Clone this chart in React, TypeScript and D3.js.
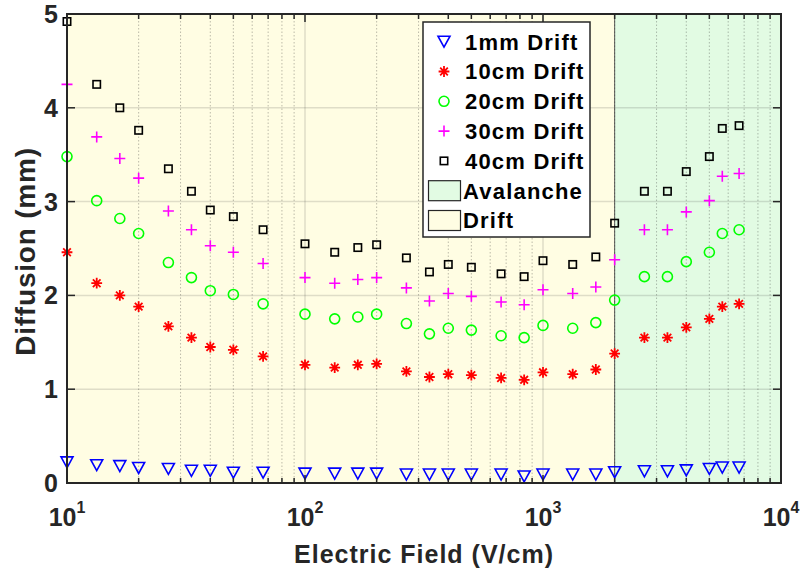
import React from "react";
import * as d3 from "d3";

// Electric field values (V/cm) at which diffusion was evaluated
const fieldVcm = [
  10, 13.33, 16.67, 20, 26.67, 33.33, 40, 50, 66.67, 100, 133.3, 166.7, 200,
  266.7, 333.3, 400, 500, 666.7, 833.3, 1000, 1333, 1667, 2000, 2667, 3333,
  4000, 5000, 5667, 6667,
];

// Diffusion (mm) for each drift length
const drift1mm = [
  0.22, 0.19, 0.18, 0.16, 0.15, 0.13, 0.13, 0.11, 0.11, 0.1, 0.1, 0.1, 0.1,
  0.09, 0.09, 0.09, 0.09, 0.09, 0.07, 0.09, 0.09, 0.09, 0.115, 0.125, 0.125,
  0.135, 0.15, 0.165, 0.165,
];
const drift10cm = [
  2.46, 2.13, 2.0, 1.88, 1.67, 1.55, 1.45, 1.42, 1.35, 1.26, 1.23, 1.26, 1.27,
  1.19, 1.13, 1.16, 1.15, 1.12, 1.1, 1.18, 1.16, 1.21, 1.38, 1.55, 1.55, 1.66,
  1.75, 1.88, 1.91,
];
const drift20cm = [
  3.48, 3.01, 2.82, 2.66, 2.35, 2.19, 2.05, 2.01, 1.91, 1.8, 1.75, 1.77, 1.8,
  1.7, 1.59, 1.65, 1.63, 1.57, 1.55, 1.68, 1.65, 1.71, 1.95, 2.2, 2.2, 2.36,
  2.46, 2.66, 2.7,
];
const drift30cm = [
  4.25, 3.69, 3.46, 3.25, 2.9, 2.7, 2.53, 2.46, 2.34, 2.19, 2.13, 2.17, 2.19,
  2.08, 1.94, 2.02, 1.99, 1.93, 1.9, 2.06, 2.02, 2.09, 2.38, 2.7, 2.7, 2.89,
  3.01, 3.27, 3.3,
];
const drift40cm = [
  4.92, 4.25, 4.0, 3.76, 3.35, 3.11, 2.91, 2.84, 2.7, 2.55, 2.46, 2.51, 2.54,
  2.4, 2.25, 2.33, 2.3, 2.23, 2.2, 2.37, 2.33, 2.41, 2.77, 3.11, 3.11, 3.32,
  3.48, 3.78, 3.81,
];

const seriesNames = ["1mm Drift", "10cm Drift", "20cm Drift", "30cm Drift", "40cm Drift"];
const seriesColors = ["#0000ff", "#ff0000", "#00ff00", "#ff00ff", "#000000"];
const seriesMarkers = ["triangle", "asterisk", "circle", "plus", "square"];

// Operating regions along the field axis
const regionNames = ["Avalanche", "Drift"];
const regionStart = [2000, 10];
const regionEnd = [10000, 2000];
const regionColors = ["#e2fbe3", "#fffde3"];

const yTicks = [0, 1, 2, 3, 4, 5];
const xDecades = [1, 2, 3, 4];

const W = 804;
const H = 571;
const left = 67;
const right = 781;
const top = 14;
const bottom = 483;

const FONT = "'Liberation Sans', Arial, Helvetica, sans-serif";
const AXIS = "#262626";

function Marker({ kind, x, y, color }: { kind: string; x: number; y: number; color: string }) {
  const sw = 1.6;
  if (kind === "triangle") {
    const p = `${x - 6},${y - 5.5} ${x + 6},${y - 5.5} ${x},${y + 5.5}`;
    return <polygon points={p} fill="none" stroke={color} strokeWidth={sw} strokeLinejoin="miter" />;
  }
  if (kind === "circle") {
    return <circle cx={x} cy={y} r={5} fill="none" stroke={color} strokeWidth={sw} />;
  }
  if (kind === "square") {
    return <rect x={x - 3.7} y={y - 3.7} width={7.4} height={7.4} fill="none" stroke={color} strokeWidth={sw} />;
  }
  if (kind === "plus") {
    return (
      <path d={`M${x - 5.5},${y}H${x + 5.5}M${x},${y - 5.5}V${y + 5.5}`} stroke={color} strokeWidth={sw} fill="none" />
    );
  }
  // asterisk: plus overlaid with a cross
  const r = 5.4;
  const d = r * Math.SQRT1_2;
  return (
    <path
      d={`M${x - r},${y}H${x + r}M${x},${y - r}V${y + r}M${x - d},${y - d}L${x + d},${y + d}M${x - d},${y + d}L${x + d},${y - d}`}
      stroke={color}
      strokeWidth={1.8}
      fill="none"
    />
  );
}

export default function App() {
  const x = d3.scaleLog().domain([10, 10000]).range([left, right]);
  const y = d3.scaleLinear().domain([0, 5]).range([bottom, top]);

  const allSeries = [drift1mm, drift10cm, drift20cm, drift30cm, drift40cm];

  const minorX: number[] = [];
  for (let e = 1; e < 4; e++) {
    for (let m = 2; m <= 9; m++) minorX.push(m * Math.pow(10, e));
  }
  const majorX = xDecades.map((e) => Math.pow(10, e));

  const legX = 423;
  const legY = 22;
  const legW = 167;
  const legH = 215;
  const rowH = 29.8;
  const firstRow = 41.7;

  return (
    <svg width={W} height={H} style={{ position: "absolute", left: 0, top: 0, background: "#ffffff" }}>
      {/* region patches */}
      {regionNames.map((n, i) => (
        <rect
          key={n}
          x={x(regionStart[i])}
          y={top}
          width={x(regionEnd[i]) - x(regionStart[i])}
          height={bottom - top}
          fill={regionColors[i]}
        />
      ))}
      <line x1={x(2000)} x2={x(2000)} y1={top} y2={bottom} stroke="#333" strokeWidth={1} opacity={0.8} />

      {/* grid */}
      {minorX.map((v) => (
        <line
          key={"mg" + v}
          x1={x(v)}
          x2={x(v)}
          y1={top}
          y2={bottom}
          stroke={AXIS}
          strokeOpacity={0.3}
          strokeWidth={1}
          strokeDasharray="1.5 2"
        />
      ))}
      {majorX.slice(1, 3).map((v) => (
        <line key={"Mg" + v} x1={x(v)} x2={x(v)} y1={top} y2={bottom} stroke={AXIS} strokeOpacity={0.15} strokeWidth={1.5} />
      ))}
      {yTicks.slice(1, 5).map((v) => (
        <line key={"yg" + v} x1={left} x2={right} y1={y(v)} y2={y(v)} stroke={AXIS} strokeOpacity={0.15} strokeWidth={1.5} />
      ))}

      {/* data */}
      {allSeries.map((vals, si) => (
        <g key={seriesNames[si]}>
          {vals.map((v, i) => (
            <Marker key={i} kind={seriesMarkers[si]} x={x(fieldVcm[i])} y={y(v)} color={seriesColors[si]} />
          ))}
        </g>
      ))}

      {/* ticks */}
      {minorX.map((v) => (
        <g key={"mt" + v}>
          <line x1={x(v)} x2={x(v)} y1={bottom} y2={bottom - 5} stroke={AXIS} strokeWidth={1.5} />
          <line x1={x(v)} x2={x(v)} y1={top} y2={top + 5} stroke={AXIS} strokeWidth={1.5} />
        </g>
      ))}
      {majorX.map((v) => (
        <g key={"Mt" + v}>
          <line x1={x(v)} x2={x(v)} y1={bottom} y2={bottom - 8} stroke={AXIS} strokeWidth={1.5} />
          <line x1={x(v)} x2={x(v)} y1={top} y2={top + 8} stroke={AXIS} strokeWidth={1.5} />
        </g>
      ))}
      {yTicks.map((v) => (
        <g key={"yt" + v}>
          <line x1={left} x2={left + 8} y1={y(v)} y2={y(v)} stroke={AXIS} strokeWidth={1.5} />
          <line x1={right} x2={right - 8} y1={y(v)} y2={y(v)} stroke={AXIS} strokeWidth={1.5} />
        </g>
      ))}

      {/* axes box */}
      <rect x={left} y={top} width={right - left} height={bottom - top} fill="none" stroke={AXIS} strokeWidth={2} />

      {/* tick labels */}
      {yTicks.map((v) => (
        <text
          key={"yl" + v}
          x={58}
          y={y(v)}
          dy="0.36em"
          textAnchor="end"
          fontFamily={FONT}
          fontWeight="bold"
          fontSize={25}
          fill={AXIS}
        >
          {v}
        </text>
      ))}
      {xDecades.map((e) => (
        <text
          key={"xl" + e}
          x={x(Math.pow(10, e))}
          y={526}
          textAnchor="middle"
          fontFamily={FONT}
          fontWeight="bold"
          fontSize={25}
          fill={AXIS}
        >
          10
          <tspan dy={-13} fontSize={16}>
            {e}
          </tspan>
        </text>
      ))}

      {/* axis titles */}
      <text
        x={(left + right) / 2}
        y={563}
        textAnchor="middle"
        fontFamily={FONT}
        fontWeight="bold"
        fontSize={25}
        letterSpacing={1}
        fill={AXIS}
      >
        Electric Field (V/cm)
      </text>
      <text
        transform={`translate(35, ${(top + bottom) / 2 + 3}) rotate(-90)`}
        textAnchor="middle"
        fontFamily={FONT}
        fontWeight="bold"
        fontSize={28}
        letterSpacing={0.8}
        fill={AXIS}
      >
        Diffusion (mm)
      </text>

      {/* legend */}
      <rect x={legX} y={legY} width={legW} height={legH} fill="#ffffff" stroke={AXIS} strokeWidth={1.5} />
      {seriesNames.map((n, i) => (
        <g key={"lg" + n}>
          <Marker kind={seriesMarkers[i]} x={444} y={legY + firstRow - 22 + i * rowH} color={seriesColors[i]} />
          <text
            x={465}
            y={legY + firstRow - 22 + i * rowH}
            dy="0.36em"
            fontFamily={FONT}
            fontWeight="bold"
            fontSize={22}
            letterSpacing={1.2}
            fill="#000"
          >
            {n}
          </text>
        </g>
      ))}
      {regionNames.map((n, i) => {
        const cy = legY + firstRow - 22 + (5 + i) * rowH;
        return (
          <g key={"lr" + n}>
            <rect x={428.5} y={cy - 10} width={32} height={20} fill={regionColors[i]} stroke={AXIS} strokeWidth={1.2} />
            <text
              x={463}
              y={cy}
              dy="0.36em"
              fontFamily={FONT}
              fontWeight="bold"
              fontSize={22}
              letterSpacing={1.2}
              fill="#000"
            >
              {n}
            </text>
          </g>
        );
      })}
    </svg>
  );
}
